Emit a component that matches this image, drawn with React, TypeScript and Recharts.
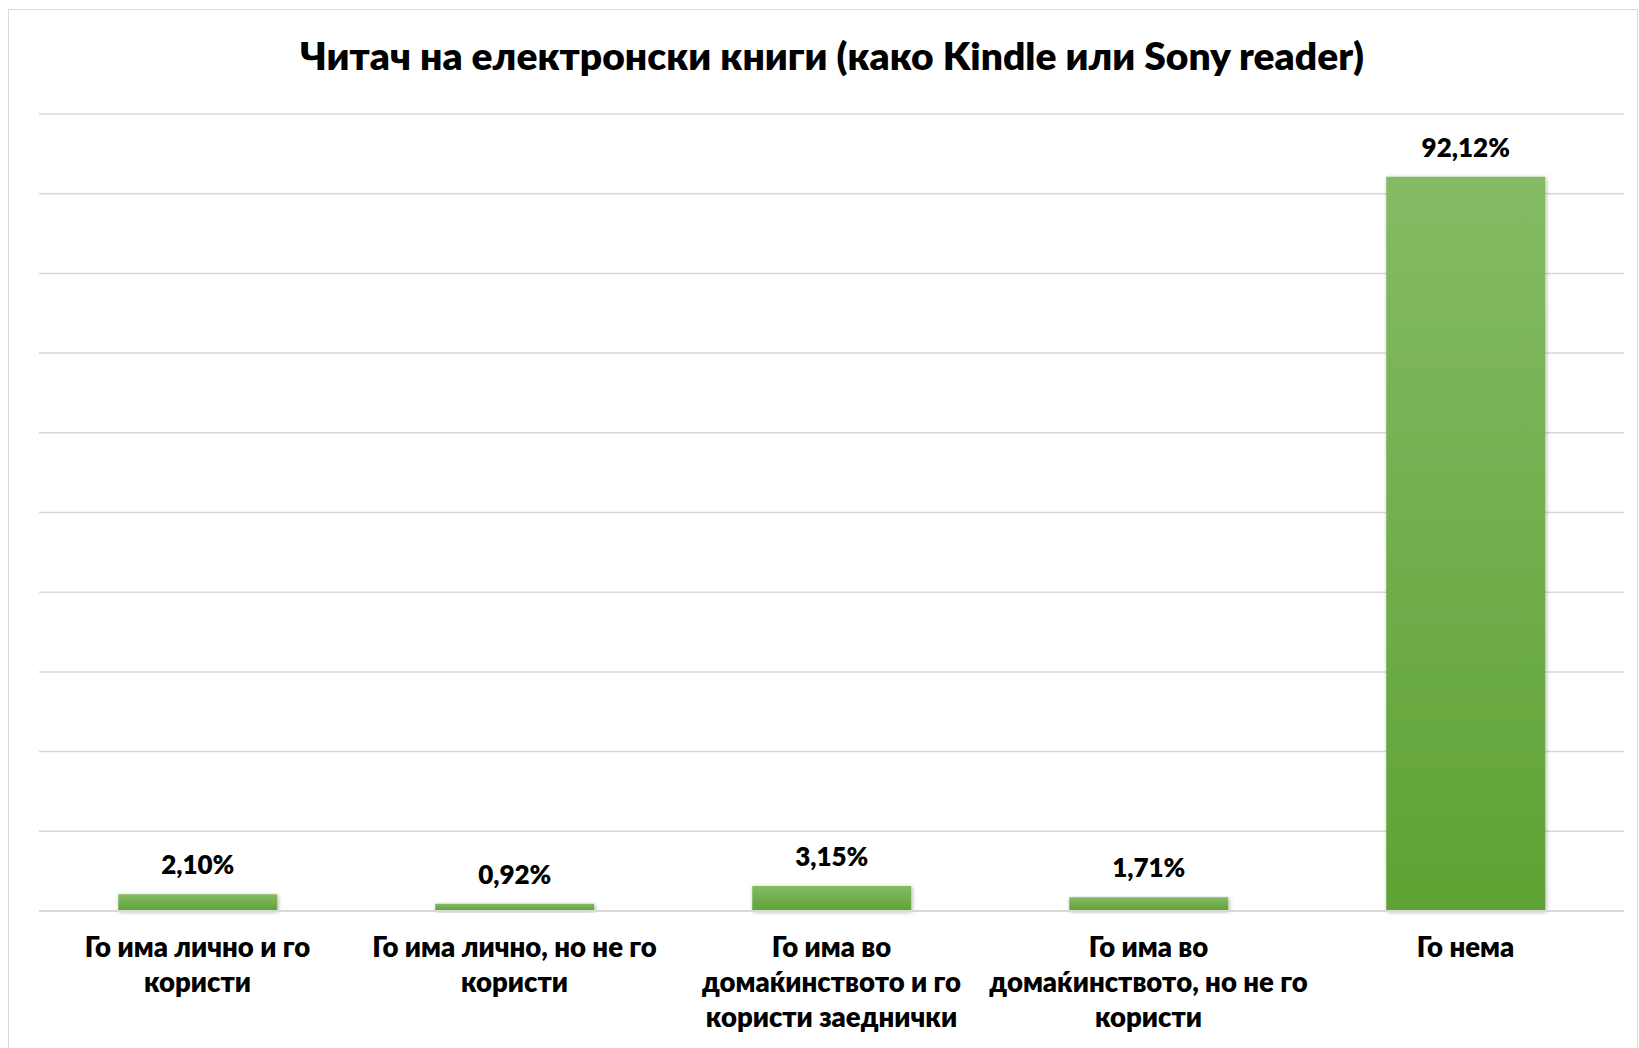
import React from "react";
import { BarChart, Bar, XAxis, YAxis, CartesianGrid, LabelList } from "recharts";

const categories = [
  "Го има лично и го\nкористи",
  "Го има лично, но не го\nкористи",
  "Го има во\nдомаќинството и го\nкористи заеднички",
  "Го има во\nдомаќинството, но не го\nкористи",
  "Го нема",
];
const values = [2.1, 0.92, 3.15, 1.71, 92.12];
const valueLabels = ["2,10%", "0,92%", "3,15%", "1,71%", "92,12%"];
const yTicks = [0, 10, 20, 30, 40, 50, 60, 70, 80, 90, 100];
const title = "Читач на електронски книги (како Kindle или Sony reader)";

const data = categories.map((c, i) => ({ name: c, value: values[i], label: valueLabels[i] }));

const FONT = "Lato, 'Open Sans', sans-serif";

const CatTick = (props: any) => {
  const { x, y, payload } = props;
  const lines = String(payload.value).split("\n");
  return (
    <text x={x} y={y + 46} textAnchor="middle" fontFamily={FONT} fontWeight={800} fontSize={27.5} fill="#000">
      {lines.map((l, i) => (
        <tspan key={i} x={x} dy={i === 0 ? 0 : 35}>
          {l}
        </tspan>
      ))}
    </text>
  );
};

const ValueLabel = (props: any) => {
  const { x, y, width, value } = props;
  return (
    <text x={x + width / 2} y={y - 20} textAnchor="middle" fontFamily={FONT} fontWeight={800} fontSize={26} fill="#000">
      {value}
    </text>
  );
};

export default function App() {
  return (
    <div style={{ position: "fixed", left: 0, top: 0, width: 1639, height: 1048, background: "#fff" }}>
      <div
        style={{
          position: "absolute",
          left: 8,
          top: 9,
          width: 1630,
          height: 1060,
          border: "1px solid #D9D9D9",
          boxSizing: "border-box",
        }}
      />
      <BarChart
        width={1639}
        height={1048}
        data={data}
        margin={{ top: 114, right: 15, left: 39, bottom: 0 }}
        barCategoryGap="25%"
        style={{ position: "absolute", left: 0, top: 0 }}
      >
        <defs>
          <linearGradient id="barGrad" x1="0" y1="0" x2="0" y2="1">
            <stop offset="0%" stopColor="#84BB65" />
            <stop offset="100%" stopColor="#5FA234" />
          </linearGradient>
          <filter id="barShadow" x="-10%" y="-10%" width="130%" height="130%">
            <feDropShadow dx="1" dy="1" stdDeviation="2" floodColor="#000" floodOpacity="0.3" />
          </filter>
        </defs>
        <CartesianGrid vertical={false} stroke="#D9D9D9" strokeWidth={1.5} />
        <YAxis hide domain={[0, 100]} ticks={yTicks} />
        <XAxis
          dataKey="name"
          height={137}
          axisLine={{ stroke: "#D9D9D9", strokeWidth: 2 }}
          tickLine={false}
          tickSize={0}
          tickMargin={0}
          interval={0}
          tick={<CatTick />}
        />
        <Bar dataKey="value" fill="url(#barGrad)" filter="url(#barShadow)" isAnimationActive={false}>
          <LabelList dataKey="label" content={<ValueLabel />} />
        </Bar>
      </BarChart>
      <svg width={1639} height={120} style={{ position: "absolute", left: 0, top: 0 }}>
        <text
          x={832}
          y={70}
          textAnchor="middle"
          fontFamily={FONT}
          fontWeight={800}
          fontSize={38}
          textLength={1064}
          lengthAdjust="spacingAndGlyphs"
          fill="#000"
        >
          {title}
        </text>
      </svg>
    </div>
  );
}
